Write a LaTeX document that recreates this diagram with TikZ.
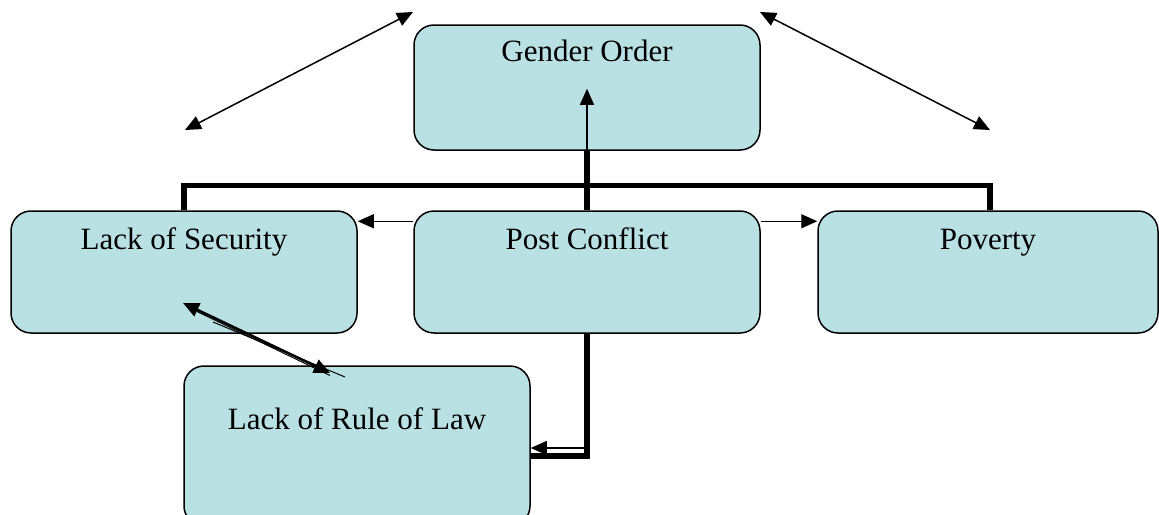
\documentclass[tikz,border=0pt]{standalone}
\usepackage{fontspec}
\setmainfont{Liberation Serif}
\usetikzlibrary{arrows.meta}
\definecolor{boxfill}{RGB}{185,224,227}
\tikzset{
  box/.style={draw=black, line width=1.5pt, fill=boxfill, rounded corners=20pt, minimum width=346pt, inner sep=0pt},
  lbl/.style={anchor=base, inner sep=0pt, font=\fontsize{31}{37}\selectfont},
  thickline/.style={line width=5.5pt},
  thinarrow/.style={line width=1.3pt, -{Triangle[length=16pt,width=14pt]}},
  dblarrow/.style={line width=1.5pt, {Triangle[length=16pt,width=14pt]}-{Triangle[length=16pt,width=14pt]}},
}
\begin{document}
\begin{tikzpicture}[x=1pt,y=-1pt]
\useasboundingbox (0,0) rectangle (1159,514);
\clip (0,0) rectangle (1159,514);
% boxes
\node[box, minimum height=125pt] (go) at (587,87.5) {};
\node[box, minimum height=122pt] (ls) at (184,272) {};
\node[box, minimum height=122pt] (pc) at (587,272) {};
\node[box, minimum height=122pt, minimum width=340pt] (pv) at (988,272) {};
\node[box, minimum height=160pt] (rl) at (357,446) {};
% labels
\node[lbl] (got) at ([yshift=-37pt]go.north) {Gender Order};
\node[lbl] (lst) at ([yshift=-39pt]ls.north) {Lack of Security};
\node[lbl] (pct) at ([yshift=-39pt]pc.north) {Post Conflict};
\node[lbl] (pvt) at ([yshift=-39pt]pv.north) {Poverty};
\node[lbl] (rlt) at ([yshift=-64pt]rl.north) {Lack of Rule of Law};
% thick connectors
\coordinate (bar) at (587,185.5);
\draw[thickline] (ls.north) |- (bar) -| ([xshift=2pt]pv.north);
\draw[thickline] (go.south) -- (pc.north);
\coordinate (pcdown) at (587,456);
\draw[thickline] (pc.south) -- (pcdown) -- (pcdown -| rl.east);
% thin arrows
\draw[thinarrow] (go.south) -- ++(0,-62);
\draw[thinarrow] ([yshift=-11pt]pc.north west) -- ([yshift=-11pt]ls.north east);
\draw[thinarrow] ([yshift=-11pt]pc.north east) -- ([yshift=-11pt]pv.north west);
\coordinate (pcin) at (586,448);
\draw[thinarrow] (pcin) -- (pcin -| rl.east);
% double arrows at top
\coordinate (tl1) at (185,130);
\coordinate (tl2) at (413,12);
\coordinate (tr1) at (760,12);
\coordinate (tr2) at (990,130);
\draw[dblarrow] (tl1) -- (tl2);
\draw[dblarrow] (tr1) -- (tr2);
% lack of security <-> rule of law
\coordinate (s1) at (183,303);
\coordinate (s2) at (330,373);
\coordinate (s3) at (345,377);
\draw[dblarrow, line width=2.5pt] (s1) -- (s2);
\draw[line width=1pt] ([yshift=-2.5pt]s1) ++(14,6) -- ([yshift=-2.5pt]s2);
\draw[line width=1pt] ([yshift=-5pt]s1) ++(30,14) -- (s3);
\end{tikzpicture}
\end{document}
